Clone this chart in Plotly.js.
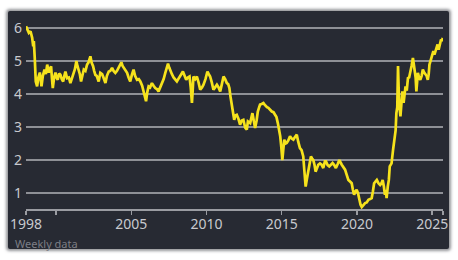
<!DOCTYPE html>
<html>
<head>
<meta charset="utf-8">
<script src="https://cdn.plot.ly/plotly-3.0.1.min.js"></script>
<style>
  html, body { margin: 0; padding: 0; background: #ffffff; width: 458px; height: 260px; overflow: hidden; }
  #bg { position: absolute; left: 8px; top: 11px; width: 441px; height: 238px; background: #272a33;
        box-shadow: 0 0 3px 2px rgba(60,62,70,0.55); border-radius: 2px; }
  #chart { position: absolute; left: 0; top: 0; width: 458px; height: 260px; }
</style>
</head>
<body>
<div id="bg"></div>
<div id="chart"></div>
<script>
// Weekly yield series (decimal year, %)
const years = [
  1998.0,1998.1,1998.19,1998.3,1998.41,1998.48,1998.52,1998.58,1998.65,1998.74,1998.82,1998.92,1998.97,
  1999.03,1999.12,1999.23,1999.32,1999.41,1999.51,1999.6,1999.67,1999.72,1999.78,1999.87,1999.96,
  2000.03,2000.11,2000.2,2000.29,2000.38,2000.47,2000.55,2000.62,2000.73,2000.85,2000.95,
  2001.05,2001.17,2001.25,2001.35,2001.42,2001.5,2001.58,2001.66,2001.75,2001.84,2001.95,
  2002.06,2002.15,2002.28,2002.36,2002.46,2002.53,2002.61,2002.7,2002.76,2002.83,2002.94,
  2003.06,2003.15,2003.28,2003.38,2003.5,2003.6,2003.72,2003.82,2003.94,
  2004.05,2004.16,2004.25,2004.34,2004.42,2004.49,2004.6,2004.72,2004.82,2004.93,
  2005.05,2005.15,2005.25,2005.38,2005.5,2005.6,2005.72,2005.82,2005.9,2005.98,
  2006.06,2006.15,2006.25,2006.37,2006.48,2006.59,2006.7,2006.81,2006.92,
  2007.04,2007.15,2007.26,2007.35,2007.44,2007.52,2007.59,2007.7,2007.81,2007.92,
  2008.03,2008.12,2008.2,2008.32,2008.43,2008.55,2008.65,2008.76,2008.87,2008.95,
  2009.03,2009.08,2009.13,2009.25,2009.36,2009.47,2009.58,2009.7,2009.8,2009.93,
  2010.06,2010.15,2010.24,2010.35,2010.46,2010.57,2010.69,2010.8,2010.91,
  2011.02,2011.13,2011.24,2011.35,2011.44,2011.52,2011.6,2011.68,2011.76,2011.84,2011.92,
  2012.01,2012.12,2012.23,2012.34,2012.45,2012.57,2012.68,2012.75,2012.9,
  2013.05,2013.15,2013.23,2013.33,2013.41,2013.5,2013.56,2013.67,2013.78,2013.86,2013.94,
  2014.02,2014.11,2014.22,2014.34,2014.45,2014.56,2014.65,2014.74,2014.82,2014.9,2014.97,
  2015.04,2015.1,2015.17,2015.25,2015.33,2015.44,2015.55,2015.66,2015.77,2015.88,
  2016.0,2016.1,2016.21,2016.32,2016.43,2016.5,2016.59,2016.68,2016.77,2016.86,2016.94,
  2017.02,2017.1,2017.18,2017.25,2017.34,2017.43,2017.54,2017.65,2017.76,2017.87,2017.94,
  2018.05,2018.16,2018.27,2018.38,2018.49,2018.6,2018.72,2018.83,2018.99,
  2019.1,2019.21,2019.32,2019.43,2019.54,2019.65,2019.73,2019.81,2019.9,2019.98,
  2020.07,2020.16,2020.24,2020.32,2020.43,2020.54,2020.65,2020.76,2020.87,2020.98,
  2021.06,2021.14,2021.23,2021.32,2021.43,2021.54,2021.63,2021.71,2021.79,2021.86,2021.92,2021.97,
  2022.05,2022.12,2022.18,2022.3,2022.4,2022.45,2022.51,2022.57,2022.62,2022.68,2022.73,2022.76,2022.8,2022.89,2022.95,
  2023.02,2023.1,2023.17,2023.23,2023.31,2023.39,2023.47,2023.55,2023.63,2023.72,2023.78,2023.84,2023.9,2023.95,
  2024.0,2024.05,2024.13,2024.21,2024.3,2024.38,2024.47,2024.56,2024.63,2024.71,2024.77,2024.82,2024.9,
  2025.0,2025.08,2025.15,2025.22,2025.3,2025.36,2025.43,2025.5,2025.59,2025.66,2025.7
];
const yields = [
  6.05,5.95,5.85,5.9,5.7,5.44,5.6,5.1,4.38,4.23,4.5,4.65,4.4,
  4.23,4.55,4.74,4.6,4.89,4.65,4.8,4.84,4.5,4.18,4.5,4.65,
  4.5,4.43,4.62,4.58,4.45,4.38,4.55,4.68,4.48,4.5,4.33,
  4.5,4.64,4.75,5.0,4.85,4.74,4.6,4.38,4.6,4.74,4.7,
  4.89,4.95,5.14,4.95,4.84,4.7,4.58,4.55,4.43,4.38,4.64,
  4.6,4.5,4.33,4.55,4.68,4.7,4.79,4.7,4.64,
  4.7,4.79,4.85,4.96,4.85,4.79,4.72,4.64,4.5,4.38,
  4.6,4.74,4.55,4.43,4.45,4.38,4.25,4.08,3.95,3.78,
  4.05,4.23,4.2,4.33,4.25,4.18,4.15,4.08,4.2,
  4.33,4.45,4.64,4.75,4.92,4.8,4.7,4.6,4.5,4.45,
  4.38,4.45,4.53,4.6,4.68,4.55,4.43,4.5,4.53,4.2,
  3.73,4.1,4.53,4.45,4.53,4.35,4.13,4.2,4.28,4.45,
  4.68,4.6,4.53,4.35,4.13,4.2,4.28,4.2,4.08,
  4.3,4.53,4.45,4.33,4.3,4.18,3.9,3.62,3.4,3.22,3.35,
  3.37,3.25,3.07,3.2,3.22,2.98,2.92,3.17,3.12,
  3.42,3.2,2.97,3.2,3.47,3.6,3.68,3.7,3.73,3.68,3.62,
  3.6,3.58,3.52,3.47,3.45,3.37,3.3,3.12,2.95,2.72,2.4,
  2.0,2.3,2.62,2.5,2.52,2.6,2.72,2.65,2.62,2.7,
  2.77,2.55,2.36,2.3,2.11,1.7,1.2,1.45,1.71,1.9,2.11,
  2.05,2.0,1.85,1.65,1.75,1.86,1.9,1.86,1.76,1.96,1.96,
  1.85,1.81,1.85,1.91,1.85,1.76,1.88,2.0,1.86,
  1.8,1.71,1.55,1.4,1.35,1.3,1.1,0.95,1.05,1.1,
  1.0,0.8,0.65,0.58,0.65,0.7,0.72,0.8,0.82,0.85,
  1.05,1.3,1.35,1.4,1.3,1.25,1.3,1.4,1.2,0.95,1.1,0.85,
  1.2,1.4,1.81,1.9,2.31,2.52,2.72,2.9,3.42,3.6,4.85,4.3,3.73,3.32,3.7,
  4.08,3.73,4.0,4.23,4.1,4.48,4.5,4.74,4.85,5.09,4.9,4.84,4.5,4.08,
  4.3,4.64,4.5,4.43,4.55,4.74,4.65,4.58,4.55,4.43,4.6,4.89,5.0,
  5.14,5.3,5.19,5.3,5.44,5.5,5.34,5.5,5.65,5.6,5.7
];
const xTickVals = [1998, 2000, 2005, 2010, 2015, 2020, 2025, 2025.72];
const xTickText = ['1998', '', '2005', '2010', '2015', '2020', '2025', ''];
const yTickVals = [1, 2, 3, 4, 5, 6];
const yTickText = ['1', '2', '3', '4', '5', '6'];
const footnote = 'Weekly data';

const trace = {
  x: years, y: yields, type: 'scatter', mode: 'lines',
  line: { color: '#f6e21c', width: 2.7 },
  hoverinfo: 'skip'
};

const layout = {
  width: 458, height: 260,
  margin: { l: 26, r: 15, t: 18, b: 51, pad: 0 },
  paper_bgcolor: 'rgba(0,0,0,0)',
  plot_bgcolor: 'rgba(0,0,0,0)',
  showlegend: false,
  font: { family: 'Noto Sans, Open Sans, sans-serif', color: '#c8c9ce', size: 14 },
  xaxis: {
    range: [1998, 2025.72],
    tickvals: xTickVals, ticktext: xTickText,
    showgrid: false, zeroline: false,
    showline: true, linecolor: '#9a9ca2', linewidth: 1.5,
    ticks: 'outside', ticklen: 4, tickwidth: 1.5, tickcolor: '#9a9ca2',
    ticklabelstandoff: -2,
    tickfont: { size: 14, color: '#c8c9ce' }
  },
  yaxis: {
    range: [0.52, 6.3],
    tickvals: yTickVals, ticktext: yTickText,
    showgrid: true, gridcolor: '#8e9096', gridwidth: 1.5,
    zeroline: false, showline: false, ticks: '',
    ticklabelstandoff: 3,
    tickfont: { size: 14, color: '#c8c9ce' }
  },
  annotations: [{
    text: footnote, xref: 'paper', yref: 'paper',
    x: -0.03, y: -0.18, xanchor: 'left', yanchor: 'middle',
    showarrow: false, font: { size: 11, color: '#7c7e85' }
  }]
};

Plotly.newPlot('chart', [trace], layout, { staticPlot: true, displayModeBar: false });
</script>
</body>
</html>
